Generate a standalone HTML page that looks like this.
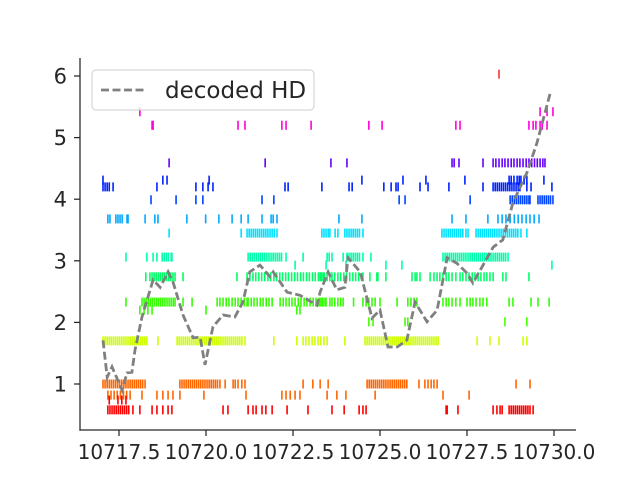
<!DOCTYPE html>
<html><head><meta charset="utf-8"><style>
body{margin:0;background:#fff}
svg{display:block;font-family:"DejaVu Sans","Liberation Sans",sans-serif}
</style></head><body>
<svg id="chart" width="640" height="480"></svg>
<script>
const base = 10717;
const xTicks = [10717.5, 10720.0, 10722.5, 10725.0, 10727.5, 10730.0];
const xTickLabels = ["10717.5","10720.0","10722.5","10725.0","10727.5","10730.0"];
const yTicks = [1,2,3,4,5,6];
const rowLevels = [6.03,5.42,5.20,4.59,4.31,4.20,3.99,3.68,3.45,3.06,2.93,2.74,2.33,2.20,2.01,1.70,1.00,0.82,0.74,0.58];
const rowColors = ["#ff3030","#ff00dd","#ff00dd","#6600ff","#0022ff","#0022ff","#0044ff","#00aaff","#00e0ff","#00ffaa","#00ffaa","#00ff66","#33ff00","#33ff00","#44ff00","#ccff00","#ff6600","#ff6600","#ff0000","#ff0000"];
const spikes0 = [11.42];
const spikes1 = [1.10,12.60,12.80,12.97];
const spikes2 = [1.45,1.48,3.92,4.12,5.18,5.30,6.02,7.68,8.06,10.18,10.30,12.28,12.40,12.48,12.60,12.66,12.80];
const spikes3 = [1.94,4.70,6.59,7.05,10.07,10.13,10.27,10.96,11.25,11.33,11.42,11.51,11.59,11.68,11.77,11.85,11.94,12.02,12.11,12.20,12.28,12.36,12.44,12.52,12.60,12.68,12.74];
const spikes4 = [0.04,1.76,1.88,3.09,7.48,8.66,9.32,10.44,11.71,11.77,11.85,11.94,12.0,12.05,12.14,12.22,12.71];
const spikes5 = [0.04,0.10,0.16,0.22,0.33,1.59,2.71,2.91,3.06,3.20,5.27,5.36,6.33,7.11,7.20,8.11,8.32,8.46,8.52,9.15,9.38,9.98,10.96,11.25,11.31,11.37,11.43,11.49,11.55,11.61,11.67,11.73,11.79,11.85,11.91,11.97,12.02,12.22,12.34,12.94];
const spikes6 = [1.42,2.14,2.71,2.91,4.61,4.95,8.55,8.72,10.59,11.74,11.80,11.86,11.92,11.98,12.04,12.10,12.16,12.22,12.28,12.31,12.54,12.60,12.66,12.72,12.78,12.84,12.90,12.97];
const spikes7 = [0.18,0.24,0.41,0.47,0.53,0.59,0.73,0.76,1.25,1.53,1.62,2.45,2.99,3.37,3.75,4.01,4.21,4.61,4.87,4.93,5.04,6.82,7.48,10.07,10.47,11.10,11.39,11.51,11.62,11.74,11.86,11.97,12.08,12.2,12.31,12.43,12.57];
const spikes8 = [1.94,4.01,4.18,4.24,4.30,4.36,4.42,4.48,4.54,4.60,4.66,4.72,4.78,4.84,4.90,4.96,5.04,6.33,6.39,6.45,6.51,6.56,6.71,6.79,6.99,7.05,7.11,7.17,7.23,7.29,7.35,7.41,7.51,9.78,9.84,9.90,9.96,10.02,10.08,10.14,10.20,10.26,10.32,10.38,10.47,10.53,10.76,10.82,10.88,10.94,11.00,11.06,11.12,11.18,11.24,11.30,11.36,11.42,11.48,11.54,11.60,11.66,11.72,11.78,11.84,11.90,11.96,12.05,12.22];
const spikes9 = [0.70,1.30,1.48,1.59,1.74,1.80,1.86,1.92,2.0,2.02,4.21,4.27,4.33,4.39,4.45,4.51,4.57,4.63,4.69,4.75,4.81,4.87,4.93,4.99,5.05,5.11,5.17,5.30,5.79,6.48,6.54,6.62,6.94,7.05,7.11,7.17,7.23,7.29,7.35,7.41,7.51,7.74,9.81,9.87,9.93,9.99,10.05,10.11,10.17,10.23,10.29,10.35,10.41,10.47,10.53,10.59,10.65,10.71,10.77,10.83,10.89,10.95,11.01,11.07,11.13,11.19,11.25,11.31,11.37,11.43,11.49,11.55,11.61,11.68];
const spikes10 = [5.56,6.45,7.02,8.17,8.63,12.94];
const spikes11 = [1.27,1.39,1.45,1.51,1.57,1.63,1.69,1.75,1.81,1.87,1.93,1.99,2.05,2.11,2.34,3.89,4.18,4.26,4.35,4.43,4.52,4.60,4.69,4.78,4.86,4.95,5.03,5.12,5.20,5.29,5.37,5.46,5.55,5.63,5.72,5.80,5.89,5.97,6.06,6.14,6.23,6.31,6.40,6.48,6.56,6.28,6.36,6.62,6.70,6.79,6.87,6.96,7.04,7.13,7.22,7.30,7.39,7.51,7.71,7.91,7.94,8.17,8.92,9.01,9.06,9.15,9.44,9.55,9.64,9.72,9.81,9.90,9.98,10.07,10.18,10.30,10.38,10.47,10.56,10.65,10.73,10.82,10.90,10.99,11.07,11.16,11.25,11.53,11.62,12.28];
const spikes12 = [0.70,1.16,1.22,1.28,1.34,1.40,1.46,1.52,1.58,1.64,1.70,1.76,1.82,1.88,1.94,2.00,2.06,2.11,2.34,2.60,3.32,3.40,3.49,3.58,3.66,3.75,3.84,3.92,4.01,4.10,4.18,4.21,4.30,4.38,4.47,4.56,4.64,4.73,4.81,4.90,5.13,5.22,5.30,5.39,5.47,5.56,5.65,5.73,5.82,5.90,5.99,6.08,6.16,6.25,6.33,6.42,6.56,6.28,6.36,6.45,6.62,6.70,6.79,6.87,6.94,7.24,7.51,7.60,7.68,7.77,7.86,8.0,8.49,8.80,8.89,8.98,9.06,9.81,9.90,9.98,10.07,10.18,10.30,10.50,10.59,10.67,10.76,10.87,10.96,11.07,11.71,11.82,12.34,12.54,12.86];
const spikes13 = [1.10,1.22,1.33,1.45,3.00,5.61,5.70];
const spikes14 = [7.68,7.80,8.72,8.80,11.59,12.22];
const spikes15 = [0.04,0.10,0.16,0.22,0.28,0.34,0.40,0.46,0.52,0.58,0.64,0.70,0.76,0.82,0.88,0.94,1.00,1.06,1.12,1.18,1.24,1.30,1.62,2.17,2.23,2.29,2.35,2.41,2.47,2.53,2.59,2.65,2.71,2.77,2.83,2.89,2.95,3.01,3.07,3.13,3.19,3.25,3.31,3.37,3.43,3.49,3.55,3.61,3.67,3.73,3.79,3.85,3.91,3.97,4.03,4.12,4.95,5.61,5.79,5.87,5.96,6.05,6.13,6.22,6.30,6.39,6.48,6.99,7.57,7.63,7.69,7.75,7.81,7.87,7.93,7.99,8.05,8.11,8.17,8.23,8.29,8.35,8.41,8.47,8.53,8.59,8.65,8.71,8.77,8.83,8.89,8.95,9.01,9.07,9.13,9.19,9.25,9.31,9.37,9.43,9.49,9.55,9.61,9.67,10.79,11.16,11.42,12.11,12.22];
const spikes16 = [0.04,0.10,0.16,0.22,0.28,0.34,0.40,0.46,0.52,0.58,0.64,0.70,0.76,0.82,0.88,0.94,1.00,1.06,1.12,1.18,1.25,2.25,2.31,2.37,2.43,2.49,2.55,2.61,2.67,2.73,2.79,2.85,2.91,2.97,3.03,3.09,3.15,3.21,3.27,3.33,3.40,3.55,3.78,3.84,3.92,4.03,4.12,5.79,6.07,6.28,6.51,7.63,7.69,7.75,7.81,7.87,7.93,7.99,8.05,8.11,8.17,8.23,8.29,8.35,8.41,8.47,8.53,8.59,8.65,8.71,8.77,9.12,9.29,9.38,9.47,9.55,9.64,11.91,12.31];
const spikes17 = [0.18,0.27,0.36,0.45,0.54,0.63,0.72,0.82,1.16,1.59,1.76,1.91,2.05,2.25,2.94,4.15,5.18,5.30,5.42,5.56,5.70,6.48,6.76,7.02,7.86,9.81,10.56];
const spikes18 = [0.22,0.47,0.58,0.70];
const spikes19 = [0.18,0.24,0.30,0.36,0.42,0.48,0.54,0.60,0.66,0.72,0.78,0.90,1.10,1.45,1.59,1.76,1.91,2.02,3.49,3.63,4.21,4.35,4.44,4.61,4.72,4.90,5.33,5.93,6.62,6.97,7.40,7.51,7.60,9.90,9.93,10.24,11.25,11.36,11.45,11.51,11.71,11.77,11.83,11.89,11.95,12.01,12.07,12.13,12.19,12.25,12.31,12.40];
const spikeRows = [spikes0,spikes1,spikes2,spikes3,spikes4,spikes5,spikes6,spikes7,spikes8,spikes9,spikes10,spikes11,spikes12,spikes13,spikes14,spikes15,spikes16,spikes17,spikes18,spikes19];
const hdTimes = [0.04,0.16,0.30,0.59,0.73,0.87,0.96,1.16,1.48,1.68,1.91,2.05,2.34,2.63,2.83,2.97,3.20,3.49,3.83,4.06,4.26,4.55,4.84,4.93,5.33,5.70,6.19,6.28,6.51,6.76,6.99,7.08,7.43,7.77,8.0,8.23,8.49,8.77,9.01,9.35,9.64,9.93,10.21,10.50,10.67,10.93,11.25,11.53,11.82,12.22,12.51,12.89];
const hdValues = [1.71,1.11,1.28,0.90,1.18,1.19,1.55,2.09,2.69,2.57,2.82,2.66,2.12,1.75,1.76,1.31,1.93,2.12,2.09,2.33,2.82,2.93,2.74,2.82,2.49,2.44,2.28,2.49,2.82,2.53,2.57,3.05,2.82,2.07,2.20,1.60,1.60,1.71,2.33,2.01,2.20,3.05,2.96,2.80,2.64,2.90,3.22,3.34,3.94,4.43,4.91,5.72];

const NS = "http://www.w3.org/2000/svg";
const svg = document.getElementById("chart");
const X = t => 119 + (t - 10717.5) * 34.8;
const Y = v => 384 - (v - 1) * 61.6;
function mk(tag, attrs, parent) {
  const e = document.createElementNS(NS, tag);
  for (const k in attrs) e.setAttribute(k, attrs[k]);
  (parent || svg).appendChild(e);
  return e;
}
const gSp = mk("g", {});


spikeRows.forEach((row, i) => {
  const g = mk("g", {stroke: rowColors[i], "stroke-width": 1.6}, gSp);
  
  
  const y = Y(rowLevels[i]);
  row.forEach(o => {
    const x = X(base + o);
    const l = mk("line", {x1: x, x2: x, y1: y - 4.5, y2: y + 4.5}, g);
    
    
  });
});
const pts = hdTimes.map((t, i) => X(base + t).toFixed(1) + "," + Y(hdValues[i]).toFixed(1)).join(" ");
const pl = mk("polyline", {points: pts, fill: "none", stroke: "#808080", "stroke-width": 2.8, "stroke-dasharray": "8,3.5"});


const ax = mk("g", {stroke: "#262626", "stroke-width": 1.25});


const ls = mk("line", {x1: 80, x2: 80, y1: 58, y2: 430.6}, ax);


const bs = mk("line", {x1: 79.4, x2: 576, y1: 430, y2: 430}, ax);


xTicks.forEach((t, i) => {
  const x = X(t);
  const tk = mk("line", {x1: x, x2: x, y1: 430, y2: 436}, ax);
  
  
  const tx = mk("text", {x: x, y: 459, "text-anchor": "middle", "font-size": 20, fill: "#262626", stroke: "none"});
  tx.textContent = xTickLabels[i];
  
  
});
yTicks.forEach(v => {
  const y = Y(v);
  const tk = mk("line", {x1: 74, x2: 80, y1: y, y2: y}, ax);
  
  
  const tx = mk("text", {x: 67, y: y + 7.5, "text-anchor": "end", "font-size": 21, fill: "#262626", stroke: "none"});
  tx.textContent = v;
  
  
});
const lg = mk("g", {});


mk("rect", {x: 92, y: 70, width: 222, height: 40, rx: 4, fill: "rgba(255,255,255,0.8)", stroke: "#cccccc", "stroke-width": 1}, lg);
const ll = mk("line", {x1: 101, x2: 146, y1: 90, y2: 90, stroke: "#808080", "stroke-width": 2.8, "stroke-dasharray": "8,3.5"}, lg);


const lt = mk("text", {x: 165, y: 98, "font-size": 23, fill: "#262626"}, lg);
lt.textContent = "decoded HD";


</script>
</body></html>
